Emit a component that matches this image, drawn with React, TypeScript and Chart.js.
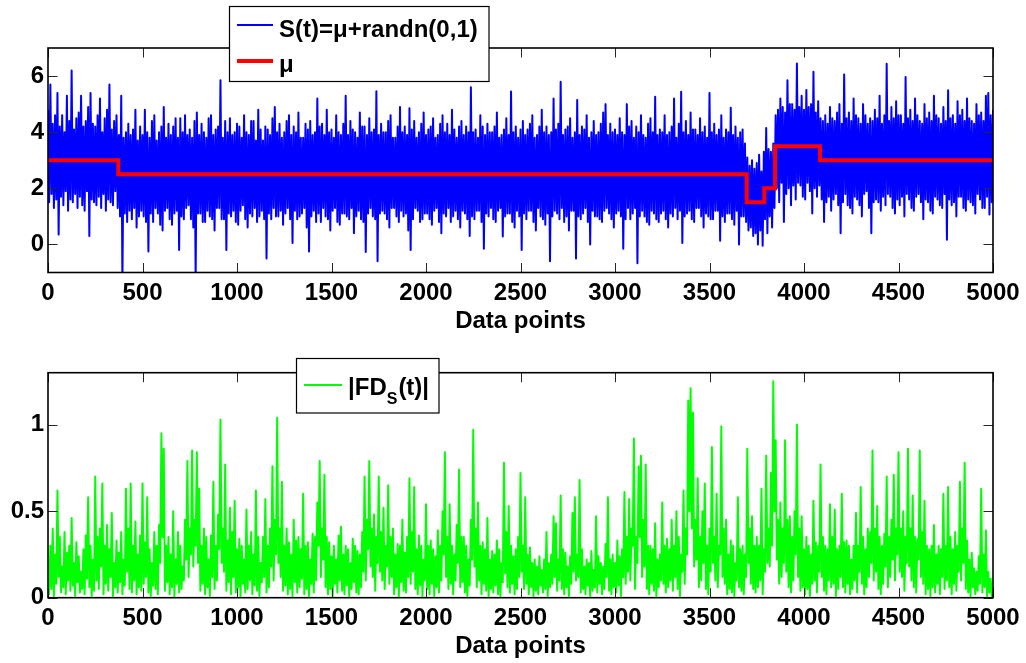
import React, { useEffect, useRef } from 'react';
import { Chart, registerables } from 'chart.js';

Chart.register(...registerables);

// ---------- data ----------
const SAMPLE_STEP = 12.5; // data points between consecutive upper turning points

const X_TICKS = [0, 500, 1000, 1500, 2000, 2500, 3000, 3500, 4000, 4500, 5000];
const X_TICK_LABELS = ['0', '500', '1000', '1500', '2000', '2500', '3000', '3500', '4000', '4500', '5000'];
const TOP_Y_TICKS = [0, 2, 4, 6];
const TOP_Y_LABELS = ['0', '2', '4', '6'];
const BOTTOM_Y_TICKS = [0, 0.5, 1];
const BOTTOM_Y_LABELS = ['0', '0.5', '1'];

const X_LABEL = 'Data points';
const LEGEND_SIGNAL = 'S(t)=μ+randn(0,1)';
const LEGEND_MU = 'μ';
const LEGEND_FD_MAIN = '|FD';
const LEGEND_FD_SUB = 'S';
const LEGEND_FD_END = '(t)|';

// step function mu: value starting at each x
const MU_X = [0, 372, 3697, 3790, 3847, 4085, 5000];
const MU_Y = [3, 2.5, 1.5, 2, 3.5, 3, 3];

// S(t): upper turning points at x = i*SAMPLE_STEP
const SIGNAL_UP = [
  4.8, 5.7, 4.3, 4.6, 5.4, 4.2, 4.6, 4.0, 5.3, 4.4, 6.2, 4.1, 4.5, 4.7, 5.3, 4.2, 4.4, 4.9, 5.4, 4.3,
  4.2, 4.6, 5.2, 4.0, 4.5, 4.8, 5.7, 4.1, 4.4, 4.6, 3.9, 5.3, 3.8, 4.0, 4.3, 3.9, 4.1, 4.8, 3.7, 4.2,
  3.9, 4.8, 4.0, 3.8, 4.4, 4.6, 3.7, 4.0, 4.2, 4.9, 3.8, 4.3, 3.9, 4.2, 4.5, 3.8, 4.5, 4.0, 4.6, 3.9,
  4.1, 3.8, 4.4, 4.7, 3.9, 4.3, 4.0, 3.8, 4.5, 4.6, 3.9, 4.1, 4.2, 5.85, 3.8, 4.4, 4.0, 4.5, 3.9, 4.0,
  4.3, 4.2, 3.8, 4.6, 4.0, 3.9, 4.4, 4.4, 3.7, 4.8, 4.1, 3.7, 4.2, 4.1, 3.9, 4.5, 4.9, 4.0, 4.3, 3.8,
  4.0, 4.4, 4.6, 3.9, 4.2, 4.0, 4.7, 3.8, 3.8, 4.3, 4.1, 4.4, 3.9, 4.0, 5.2, 4.2, 4.3, 3.9, 4.8, 4.0,
  4.1, 3.8, 4.6, 4.0, 3.9, 4.3, 5.3, 3.9, 4.4, 4.1, 4.0, 3.8, 4.7, 4.2, 4.2, 3.9, 4.5, 4.0, 4.1, 5.46,
  3.9, 4.3, 4.0, 4.0, 4.4, 4.6, 3.8, 3.8, 4.2, 4.9, 4.0, 4.2, 3.9, 4.85, 4.1, 4.4, 3.8, 4.0, 4.3, 4.7,
  3.9, 4.1, 4.2, 4.5, 3.8, 3.9, 4.3, 4.6, 4.0, 4.3, 3.9, 4.8, 4.1, 3.8, 4.2, 4.4, 3.9, 4.2, 4.0, 5.6,
  4.0, 4.1, 3.8, 4.6, 4.2, 3.9, 4.3, 4.0, 4.0, 4.2, 4.7, 3.8, 3.9, 4.1, 4.5, 3.9, 5.45, 4.0, 4.2, 3.8,
  4.1, 4.4, 3.9, 4.1, 4.3, 4.6, 3.8, 3.9, 4.2, 4.8, 4.0, 4.2, 3.9, 4.0, 5.2, 4.1, 4.3, 5.8, 3.9, 4.1,
  4.2, 4.5, 3.8, 4.0, 5.15, 3.9, 4.2, 4.1, 4.6, 3.8, 4.0, 4.4, 3.9, 4.0, 4.3, 4.7, 5.0, 3.9, 4.3, 4.0,
  4.1, 3.9, 4.5, 4.0, 3.9, 5.0, 4.2, 4.4, 3.8, 4.2, 4.0, 4.6, 3.9, 3.8, 4.3, 4.5, 4.0, 5.26, 3.9, 4.1,
  4.0, 4.6, 3.9, 4.0, 4.2, 5.2, 3.8, 4.3, 5.44, 4.0, 4.4, 3.9, 4.7, 4.1, 4.1, 3.9, 4.5, 4.0, 4.2, 3.8,
  5.4, 4.0, 4.3, 3.9, 4.1, 4.6, 3.8, 4.1, 4.0, 4.87, 3.9, 4.2, 3.8, 4.0, 4.1, 3.6, 3.1, 2.8, 3.0, 2.7,
  2.9, 3.2, 2.6, 3.3, 4.15, 3.4, 3.3, 3.6, 4.6, 4.8, 5.2, 4.9, 4.7, 5.85, 5.0, 5.0, 4.8, 6.45, 4.9, 5.3,
  4.8, 5.5, 4.9, 5.0, 6.15, 4.7, 5.1, 4.5, 4.4, 4.6, 4.3, 4.9, 4.5, 4.4, 4.7, 5.0, 4.3, 6.06, 4.5, 4.7,
  4.4, 5.2, 4.6, 4.5, 4.3, 5.0, 4.6, 4.3, 4.5, 4.4, 4.8, 4.5, 5.3, 4.3, 4.6, 6.44, 4.4, 4.9, 4.5, 5.1,
  4.6, 4.6, 4.3, 5.97, 4.5, 4.8, 4.4, 5.2, 4.6, 4.4, 4.3, 5.0, 4.5, 4.7, 4.4, 5.3, 4.6, 4.5, 4.3, 4.9,
  4.4, 5.49, 4.5, 4.6, 4.3, 5.1, 4.6, 4.8, 4.4, 5.2, 4.5, 4.4, 4.3, 5.0, 4.6, 4.7, 4.4, 5.3, 5.4, 4.6, 4.8,
];

// S(t): lower turning points at x = (i + 0.5)*SAMPLE_STEP
const SIGNAL_DOWN = [
  1.5, 1.8, 1.3, 1.6, 0.35, 1.7, 1.4, 1.9, 1.2, 1.6, 1.5, 1.8, 1.3, 1.7, 1.4, 1.2, 1.9, 0.3, 1.6, 1.5,
  1.4, 1.7, 1.3, 1.8, 1.2, 1.6, 1.5, 1.4, 1.9, 1.3, 1.0, -1.3, 1.1, 0.8, 1.2, 0.9, 1.3, 0.6, 1.0, 1.2,
  1.0, 0.8, -0.25, 1.1, 0.8, 1.3, 1.1, 0.7, 0.5, 1.2, 1.3, 0.9, 0.7, 1.1, 1.2, -0.2, 1.0, 0.9, 1.3, 1.4,
  0.9, 0.6, -1.2, 1.1, 1.1, 0.8, 0.8, 1.2, 1.0, 0.9, 0.5, 1.3, 1.3, 0.9, 0.9, -0.2, 1.1, 1.0, 1.2, 0.8,
  0.7, 1.2, 1.4, 0.9, 0.6, 1.1, 1.0, 1.3, 0.8, 1.0, 1.2, 0.9, -0.5, 1.1, 0.9, 1.3, 1.0, 1.0, 1.2, 0.7,
  1.1, 1.3, 0.9, 0.05, 1.2, 0.9, 1.0, 1.1, 1.3, 0.6, -0.25, 1.0, 1.2, 0.8, 1.1, 0.8, 1.3, 1.0, 0.9, 0.5,
  1.2, 1.3, 0.8, 0.7, 1.1, 1.1, 1.0, 0.9, 1.3, 0.4, 1.0, 1.2, 0.9, 0.8, -0.27, 1.1, 1.3, 1.0, 0.9, -0.6,
  1.1, 1.2, 1.1, 0.9, 0.6, 1.3, 1.3, 1.0, 0.8, 1.2, 1.0, 1.1, 0.5, -0.2, 0.9, 1.3, 1.2, 0.8, 0.9, 1.1,
  1.1, 0.9, 0.7, 1.2, 1.3, 0.8, 0.4, 1.1, 1.0, 1.3, 0.8, 1.0, 1.2, 0.9, 0.6, 1.2, 1.1, 0.9, 0.3, 1.0,
  0.9, 1.2, 1.2, 0.8, -0.15, 1.1, 1.0, 1.3, 0.9, 0.8, 1.2, 1.3, 0.28, 1.0, 1.1, 1.1, 0.8, 0.6, 1.2, 1.0,
  -0.2, 1.1, 0.9, 1.2, 1.2, 0.8, 0.5, 1.3, 1.0, 0.9, 0.7, 1.1, -0.6, 1.0, 1.2, 1.1, 0.9, 1.3, 0.8, 1.0,
  0.5, 1.2, 1.2, -0.5, 1.0, 0.9, 1.1, 1.3, 0.8, 0.0, 1.2, 1.0, 1.0, 0.9, 0.8, 1.2, 1.3, 1.1, 0.9, 0.6,
  1.1, 1.2, 1.0, -0.15, 0.9, 1.3, 0.9, 1.1, 1.3, -0.67, 1.0, 1.2, 1.0, 0.8, 0.7, 1.2, 1.1, 0.9, 0.8, 1.1,
  1.2, 0.9, 0.6, 1.1, 1.0, 1.3, 0.9, 1.2, 0.05, 1.0, 1.1, 1.2, 0.9, 0.8, 1.3, 1.3, 1.0, 0.6, 1.1, 1.0,
  0.9, 0.9, 1.2, 1.2, 0.13, 1.0, 0.8, 1.1, 1.1, 0.9, 0.7, 1.2, 0.0, 1.0, 1.0, 0.8, 0.5, 0.6, 0.3, 0.4,
  0.0, 0.5, -0.05, 0.9, 0.4, 1.0, 0.6, 1.3, 2.0, 1.5, 2.2, 0.8, 1.8, 2.0, 1.4, 2.1, 1.6, 2.2, 2.1, 1.7,
  1.6, 2.2, 1.9, 1.1, 2.0, 1.7, 2.1, 1.6, 0.8, 1.5, 1.7, 1.2, 1.6, 1.8, 1.4, 0.4, 1.5, 1.8, 1.4, 1.3,
  1.1, 1.7, 1.6, 1.4, 1.0, 1.8, 1.9, 1.3, 0.4, 1.5, 1.6, 1.5, 1.2, 1.7, 1.4, 1.8, 1.7, 1.3, 1.1, 1.6,
  1.4, 1.7, 1.0, 1.8, 1.6, 1.3, 1.2, 1.7, 1.8, 1.5, 0.9, 1.6, 1.5, 1.2, 1.1, 1.7, 1.6, 1.4, 1.3, 1.8,
  0.17, 1.6, 1.4, 1.5, 1.0, 1.7, 1.7, 1.3, 1.2, 1.6, 1.5, 1.4, 1.1, 1.8, 1.6, 1.3, 1.3, 1.7, 1.07, 1.5,
];

// |FD_S(t)|: peaks at x = i*SAMPLE_STEP
const FD_PEAK = [
  0.22, 0.30, 0.40, 0.25, 0.62, 0.35, 0.18, 0.38, 0.26, 0.30, 0.46, 0.20, 0.32, 0.24, 0.15, 0.28, 0.36, 0.58, 0.30, 0.22,
  0.70, 0.35, 0.40, 0.66, 0.30, 0.42, 0.28, 0.49, 0.20, 0.33, 0.26, 0.38, 0.22, 0.63, 0.40, 0.66, 0.30, 0.44, 0.25, 0.36,
  0.66, 0.32, 0.58, 0.28, 0.20, 0.38, 0.30, 0.42, 0.95, 0.86, 0.30, 0.35, 0.25, 0.50, 0.22, 0.38, 0.30, 0.18, 0.45, 0.79,
  0.40, 0.85, 0.45, 0.84, 0.63, 0.30, 0.40, 0.35, 0.22, 0.36, 0.67, 0.30, 0.48, 1.03, 0.40, 0.77, 0.33, 0.52, 0.38, 0.56,
  0.28, 0.34, 0.30, 0.22, 0.51, 0.30, 0.38, 0.25, 0.62, 0.35, 0.20, 0.35, 0.57, 0.30, 0.40, 0.76, 0.45, 1.04, 0.40, 0.67,
  0.30, 0.40, 0.32, 0.25, 0.45, 0.33, 0.35, 0.28, 0.60, 0.30, 0.32, 0.22, 0.37, 0.35, 0.55, 0.79, 0.40, 0.71, 0.35, 0.32,
  0.24, 0.30, 0.22, 0.36, 0.41, 0.25, 0.30, 0.28, 0.20, 0.34, 0.30, 0.27, 0.25, 0.38, 0.70, 0.45, 0.79, 0.40, 0.48, 0.35,
  0.70, 0.38, 0.52, 0.30, 0.65, 0.35, 0.40, 0.25, 0.31, 0.30, 0.45, 0.26, 0.35, 0.69, 0.38, 0.64, 0.28, 0.36, 0.30, 0.22,
  0.54, 0.30, 0.33, 0.28, 0.24, 0.39, 0.30, 0.50, 0.84, 0.35, 0.54, 0.30, 0.25, 0.42, 0.74, 0.35, 0.35, 0.30, 0.22, 0.45,
  0.97, 0.40, 0.55, 0.30, 0.32, 0.28, 0.46, 0.22, 0.27, 0.25, 0.33, 0.28, 0.20, 0.78, 0.38, 0.53, 0.30, 0.24, 0.28, 0.35,
  0.72, 0.30, 0.58, 0.25, 0.29, 0.20, 0.22, 0.18, 0.24, 0.16, 0.22, 0.38, 0.20, 0.25, 0.47, 0.43, 0.22, 0.59, 0.28, 0.26,
  0.18, 0.24, 0.49, 0.58, 0.25, 0.68, 0.28, 0.18, 0.22, 0.20, 0.27, 0.16, 0.47, 0.24, 0.20, 0.18, 0.31, 0.58, 0.22, 0.25,
  0.20, 0.33, 0.24, 0.28, 0.61, 0.35, 0.57, 0.40, 0.92, 0.35, 0.76, 0.82, 0.45, 0.77, 0.30, 0.30, 0.28, 0.43, 0.22, 0.25,
  0.55, 0.30, 0.34, 0.28, 0.45, 0.30, 0.50, 0.35, 0.25, 0.62, 0.40, 1.14, 1.21, 1.07, 0.45, 0.69, 0.35, 0.50, 0.66, 0.30,
  0.40, 0.87, 0.35, 0.60, 0.30, 0.99, 0.40, 0.45, 0.25, 0.33, 0.30, 0.20, 0.58, 0.28, 0.30, 0.25, 0.86, 0.40, 0.47, 0.30,
  0.35, 0.30, 0.63, 0.28, 0.82, 0.40, 0.72, 1.25, 0.91, 0.45, 0.55, 0.40, 0.91, 0.45, 0.47, 0.35, 0.50, 1.00, 0.40, 0.47,
  0.28, 0.35, 0.30, 0.25, 0.56, 0.32, 0.30, 0.77, 0.35, 0.30, 0.28, 0.54, 0.35, 0.51, 0.28, 0.30, 0.60, 0.32, 0.33, 0.30,
  0.22, 0.30, 0.49, 0.30, 0.64, 0.35, 0.28, 0.40, 0.38, 0.85, 0.40, 0.53, 0.35, 0.30, 0.37, 0.70, 0.35, 0.45, 0.71, 0.40,
  0.84, 0.40, 0.50, 0.35, 0.86, 0.40, 0.59, 0.35, 0.34, 0.85, 0.38, 0.56, 0.30, 0.28, 0.30, 0.42, 0.25, 0.30, 0.28, 0.60,
  0.30, 0.64, 0.35, 0.28, 0.38, 0.30, 0.67, 0.40, 0.78, 0.33, 0.22, 0.26, 0.17, 0.15, 0.24, 0.63, 0.25, 0.39, 0.15, 0.11, 0.02,
];

// |FD_S(t)|: valleys at x = (i + 0.5)*SAMPLE_STEP
const FD_VALLEY = [
  0.02, 0.05, 0.01, 0.08, 0.12, 0.03, 0.06, 0.02, 0.10, 0.04, 0.07, 0.01, 0.09, 0.03, 0.05, 0.02, 0.11, 0.06, 0.01, 0.04,
  0.10, 0.05, 0.18, 0.02, 0.08, 0.04, 0.12, 0.01, 0.06, 0.03, 0.09, 0.02, 0.07, 0.15, 0.05, 0.03, 0.10, 0.02, 0.06, 0.04,
  0.08, 0.12, 0.03, 0.01, 0.07, 0.05, 0.02, 0.20, 0.35, 0.04, 0.09, 0.02, 0.06, 0.01, 0.08, 0.03, 0.05, 0.10, 0.22, 0.12,
  0.25, 0.18, 0.30, 0.20, 0.04, 0.08, 0.02, 0.06, 0.01, 0.12, 0.05, 0.10, 0.28, 0.20, 0.15, 0.04, 0.09, 0.02, 0.12, 0.03,
  0.06, 0.01, 0.08, 0.03, 0.05, 0.10, 0.02, 0.07, 0.04, 0.01, 0.09, 0.12, 0.03, 0.06, 0.18, 0.10, 0.25, 0.20, 0.12, 0.04,
  0.07, 0.02, 0.05, 0.01, 0.09, 0.03, 0.06, 0.11, 0.02, 0.05, 0.01, 0.08, 0.03, 0.10, 0.30, 0.12, 0.22, 0.06, 0.02, 0.05,
  0.01, 0.08, 0.03, 0.10, 0.04, 0.02, 0.07, 0.01, 0.05, 0.09, 0.03, 0.02, 0.06, 0.15, 0.10, 0.28, 0.18, 0.12, 0.04, 0.20,
  0.15, 0.10, 0.05, 0.18, 0.08, 0.12, 0.02, 0.06, 0.01, 0.09, 0.04, 0.03, 0.12, 0.08, 0.15, 0.05, 0.02, 0.07, 0.01, 0.10,
  0.05, 0.02, 0.08, 0.01, 0.06, 0.03, 0.10, 0.25, 0.12, 0.05, 0.08, 0.02, 0.10, 0.20, 0.06, 0.09, 0.03, 0.01, 0.07, 0.22,
  0.18, 0.06, 0.10, 0.02, 0.08, 0.04, 0.01, 0.05, 0.03, 0.07, 0.02, 0.01, 0.09, 0.14, 0.06, 0.03, 0.08, 0.02, 0.05, 0.12,
  0.15, 0.05, 0.08, 0.02, 0.06, 0.01, 0.04, 0.02, 0.07, 0.03, 0.05, 0.01, 0.06, 0.08, 0.12, 0.04, 0.10, 0.05, 0.02, 0.06,
  0.01, 0.08, 0.15, 0.10, 0.12, 0.03, 0.05, 0.02, 0.07, 0.01, 0.04, 0.06, 0.03, 0.08, 0.02, 0.05, 0.12, 0.04, 0.02, 0.06,
  0.03, 0.07, 0.01, 0.12, 0.08, 0.15, 0.10, 0.30, 0.05, 0.20, 0.35, 0.12, 0.18, 0.05, 0.02, 0.08, 0.04, 0.01, 0.06, 0.10,
  0.08, 0.03, 0.06, 0.10, 0.04, 0.12, 0.05, 0.01, 0.15, 0.08, 0.25, 0.50, 0.40, 0.18, 0.22, 0.06, 0.10, 0.20, 0.05, 0.02,
  0.15, 0.20, 0.10, 0.06, 0.25, 0.12, 0.08, 0.02, 0.05, 0.03, 0.01, 0.10, 0.06, 0.04, 0.02, 0.12, 0.20, 0.08, 0.05, 0.03,
  0.06, 0.10, 0.02, 0.15, 0.20, 0.18, 0.30, 0.50, 0.22, 0.08, 0.12, 0.20, 0.15, 0.06, 0.03, 0.10, 0.25, 0.12, 0.04, 0.06,
  0.02, 0.05, 0.01, 0.08, 0.10, 0.03, 0.15, 0.12, 0.04, 0.02, 0.10, 0.06, 0.08, 0.01, 0.05, 0.12, 0.06, 0.03, 0.08, 0.02,
  0.05, 0.10, 0.03, 0.15, 0.08, 0.02, 0.06, 0.12, 0.20, 0.10, 0.15, 0.05, 0.02, 0.08, 0.18, 0.06, 0.12, 0.22, 0.10, 0.25,
  0.15, 0.12, 0.04, 0.20, 0.18, 0.10, 0.06, 0.03, 0.22, 0.12, 0.08, 0.02, 0.05, 0.01, 0.06, 0.03, 0.08, 0.02, 0.12, 0.05,
  0.10, 0.06, 0.02, 0.08, 0.04, 0.15, 0.10, 0.20, 0.05, 0.03, 0.01, 0.06, 0.02, 0.04, 0.08, 0.03, 0.06, 0.01, 0.03, 0.01,
];

// ---------- styling ----------
const FONT = '"Liberation Sans", Arial, Helvetica, sans-serif';
const W = 1026;
const TOP_H = 345;
const BOTTOM_H = 318;
const TICK_FONT = { family: FONT, size: 24, weight: 'bold' as const };
const BLUE = '#0000ff';
const RED = '#ff0000';
const GREEN = '#00ff00';

const setTicks = (values: number[]) => (scale: any) => {
  scale.ticks = values.map((v) => ({ value: v }));
};
const labelFor = (values: number[], labels: string[]) => (v: any) => {
  const i = values.indexOf(Number(v));
  return i >= 0 ? labels[i] : '';
};

// one series: upper turning points on the grid, lower turning points half-way between
const series = (ups: number[], downs: number[]) => {
  const out: { x: number; y: number }[] = [];
  ups.forEach((y, i) => {
    out.push({ x: i * SAMPLE_STEP, y });
    if (i < downs.length) out.push({ x: (i + 0.5) * SAMPLE_STEP, y: downs[i] });
  });
  return out;
};
const pts = (xs: number[], ys: number[]) => xs.map((x, i) => ({ x, y: ys[i] }));

const framePlugin = {
  id: 'matlabFrame',
  afterDatasetsDraw(chart: any) {
    const { ctx, chartArea: a, scales } = chart;
    const L = 9.5;
    ctx.save();
    ctx.strokeStyle = '#262626';
    ctx.lineWidth = 1;
    ctx.beginPath();
    scales.x.ticks.forEach((t: any) => {
      const p = Math.round(scales.x.getPixelForValue(t.value)) + 0.5;
      ctx.moveTo(p, a.bottom);
      ctx.lineTo(p, a.bottom - L);
      ctx.moveTo(p, a.top);
      ctx.lineTo(p, a.top + L);
    });
    scales.y.ticks.forEach((t: any) => {
      const p = Math.round(scales.y.getPixelForValue(t.value)) + 0.5;
      ctx.moveTo(a.left, p);
      ctx.lineTo(a.left + L, p);
      ctx.moveTo(a.right, p);
      ctx.lineTo(a.right - L, p);
    });
    ctx.stroke();
    ctx.strokeStyle = '#000';
    ctx.lineWidth = 1.6;
    ctx.strokeRect(a.left, a.top, a.right - a.left, a.bottom - a.top);
    ctx.restore();
  },
};

const topLegendPlugin = {
  id: 'topLegend',
  afterDraw(chart: any) {
    const ctx = chart.ctx;
    ctx.save();
    ctx.fillStyle = '#fff';
    ctx.fillRect(229, 6.5, 260, 75);
    ctx.strokeStyle = '#000';
    ctx.lineWidth = 1.2;
    ctx.strokeRect(229.5, 6.5, 259.5, 75);
    ctx.lineCap = 'butt';
    ctx.strokeStyle = BLUE;
    ctx.lineWidth = 2;
    ctx.beginPath();
    ctx.moveTo(237, 25);
    ctx.lineTo(273, 25);
    ctx.stroke();
    ctx.strokeStyle = RED;
    ctx.lineWidth = 4;
    ctx.beginPath();
    ctx.moveTo(237, 61);
    ctx.lineTo(273, 61);
    ctx.stroke();
    ctx.fillStyle = '#000';
    ctx.font = `bold 24px ${FONT}`;
    ctx.textBaseline = 'alphabetic';
    ctx.textAlign = 'left';
    ctx.fillText(LEGEND_SIGNAL, 279, 36.5);
    ctx.fillText(LEGEND_MU, 279, 72);
    ctx.restore();
  },
};

const bottomLegendPlugin = {
  id: 'bottomLegend',
  afterDraw(chart: any) {
    const ctx = chart.ctx;
    ctx.save();
    ctx.fillStyle = '#fff';
    ctx.fillRect(296.5, 13.5, 142.5, 54.5);
    ctx.strokeStyle = '#000';
    ctx.lineWidth = 1.2;
    ctx.strokeRect(296.5, 13.5, 142.5, 54.5);
    ctx.strokeStyle = GREEN;
    ctx.lineWidth = 2;
    ctx.beginPath();
    ctx.moveTo(304, 40);
    ctx.lineTo(342, 40);
    ctx.stroke();
    ctx.fillStyle = '#000';
    ctx.textBaseline = 'alphabetic';
    ctx.textAlign = 'left';
    let x = 348;
    ctx.font = `bold 24px ${FONT}`;
    ctx.fillText(LEGEND_FD_MAIN, x, 50);
    x += ctx.measureText(LEGEND_FD_MAIN).width;
    ctx.font = `bold 16px ${FONT}`;
    ctx.fillText(LEGEND_FD_SUB, x, 58.5);
    x += ctx.measureText(LEGEND_FD_SUB).width + 1;
    ctx.font = `bold 24px ${FONT}`;
    ctx.fillText(LEGEND_FD_END, x, 50);
    ctx.restore();
  },
};

function xScale(titlePadBottom: number, height: number) {
  return {
    type: 'linear' as const,
    min: 0,
    max: 5000,
    grid: { display: false, drawTicks: false, tickLength: 0 },
    border: { display: false },
    afterBuildTicks: setTicks(X_TICKS),
    afterFit: (s: any) => {
      s.height = height;
    },
    ticks: {
      autoSkip: false,
      maxRotation: 0,
      minRotation: 0,
      padding: 6,
      color: '#000',
      font: TICK_FONT,
      callback: labelFor(X_TICKS, X_TICK_LABELS),
    },
    title: {
      display: true,
      text: X_LABEL,
      color: '#000',
      font: TICK_FONT,
      padding: { top: 0, bottom: titlePadBottom },
    },
  };
}

function yScale(min: number, max: number, ticks: number[], labels: string[]) {
  return {
    type: 'linear' as const,
    min,
    max,
    grid: { display: false, drawTicks: false, tickLength: 0 },
    border: { display: false },
    afterBuildTicks: setTicks(ticks),
    afterFit: (s: any) => {
      s.width = 48;
    },
    ticks: {
      autoSkip: false,
      padding: 4,
      color: '#000',
      font: TICK_FONT,
      callback: labelFor(ticks, labels),
    },
  };
}

export default function App() {
  const topRef = useRef<HTMLCanvasElement>(null);
  const bottomRef = useRef<HTMLCanvasElement>(null);

  useEffect(() => {
    const top = new Chart(topRef.current as HTMLCanvasElement, {
      type: 'line',
      data: {
        datasets: [
          {
            label: LEGEND_MU,
            data: pts(MU_X, MU_Y),
            borderColor: RED,
            borderWidth: 4,
            stepped: 'before',
            pointRadius: 0,
            fill: false,
            clip: 0,
          },
          {
            label: LEGEND_SIGNAL,
            data: series(SIGNAL_UP, SIGNAL_DOWN),
            borderColor: BLUE,
            borderWidth: 2,
            borderJoinStyle: 'round',
            pointRadius: 0,
            fill: false,
            tension: 0,
            clip: 0,
          },
        ],
      },
      options: {
        responsive: false,
        animation: false,
        events: [],
        layout: { padding: { left: 0, right: 33, top: 48, bottom: 0 } },
        plugins: { legend: { display: false }, tooltip: { enabled: false } },
        scales: {
          x: xScale(9, TOP_H - 272.5),
          y: yScale(-1, 7, TOP_Y_TICKS, TOP_Y_LABELS),
        },
      } as any,
      plugins: [framePlugin, topLegendPlugin],
    });

    const bottom = new Chart(bottomRef.current as HTMLCanvasElement, {
      type: 'line',
      data: {
        datasets: [
          {
            label: '|FD_S(t)|',
            data: series(FD_PEAK, FD_VALLEY),
            borderColor: GREEN,
            borderWidth: 2,
            borderJoinStyle: 'round',
            pointRadius: 0,
            fill: false,
            tension: 0,
            clip: 0,
          },
        ],
      },
      options: {
        responsive: false,
        animation: false,
        events: [],
        layout: { padding: { left: 0, right: 33, top: 27.7, bottom: 0 } },
        plugins: { legend: { display: false }, tooltip: { enabled: false } },
        scales: {
          x: xScale(2, BOTTOM_H - 252.7),
          y: yScale(0, 1.3, BOTTOM_Y_TICKS, BOTTOM_Y_LABELS),
        },
      } as any,
      plugins: [framePlugin, bottomLegendPlugin],
    });

    return () => {
      top.destroy();
      bottom.destroy();
    };
  }, []);

  return (
    <div
      style={{
        position: 'fixed',
        left: 0,
        top: 0,
        width: W,
        height: TOP_H + BOTTOM_H,
        background: '#fff',
        overflow: 'hidden',
      }}
    >
      <canvas
        ref={topRef}
        width={W}
        height={TOP_H}
        style={{ position: 'absolute', left: 0, top: 0, width: W, height: TOP_H }}
      />
      <canvas
        ref={bottomRef}
        width={W}
        height={BOTTOM_H}
        style={{ position: 'absolute', left: 0, top: TOP_H, width: W, height: BOTTOM_H }}
      />
    </div>
  );
}
